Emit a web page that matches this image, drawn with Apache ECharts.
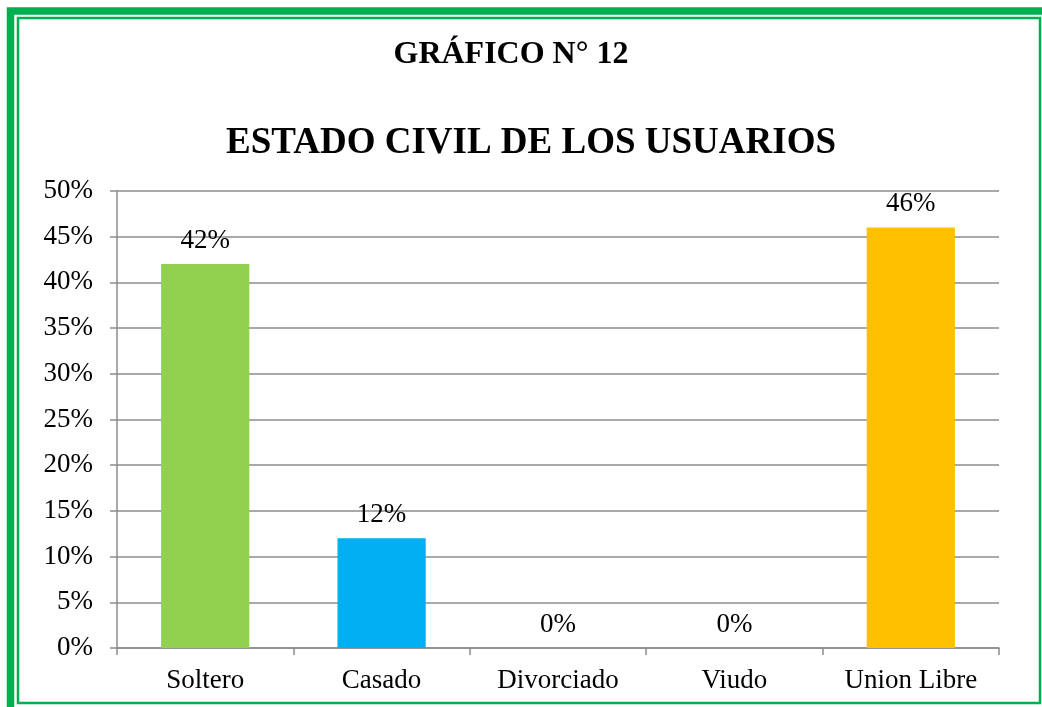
<!DOCTYPE html>
<html>
<head>
<meta charset="utf-8">
<script src="https://cdn.jsdelivr.net/npm/echarts@6/dist/echarts.min.js"></script>
<style>
html, body { margin: 0; padding: 0; background: #fff; }
#echarts { width: 1042px; height: 707px; }
</style>
</head>
<body>
<div id="echarts"></div>
<script>
var categories = ['Soltero', 'Casado', 'Divorciado', 'Viudo', 'Union Libre'];
var values = [42, 12, 0, 0, 46];
var barColors = ['#92d050', '#00b0f0', '#92d050', '#92d050', '#ffc000'];
var yTicks = [0, 5, 10, 15, 20, 25, 30, 35, 40, 45, 50];

var myChart = echarts.init(document.getElementById('echarts'));
var font = '"Liberation Serif", "Times New Roman", serif';

var option = {
    backgroundColor: '#fff',
    textStyle: { fontFamily: font },
    title: [{
        text: 'GRÁFICO N° 12',
        left: 506,
        top: 34,
        textAlign: 'center',
        textStyle: { fontFamily: font, fontSize: 32, fontWeight: 'bold', color: '#000' }
    }, {
        text: 'ESTADO CIVIL DE LOS USUARIOS',
        left: 526,
        top: 120,
        textAlign: 'center',
        textStyle: { fontFamily: font, fontSize: 37, fontWeight: 'bold', color: '#000' }
    }],
    graphic: [{
        type: 'rect',
        shape: { x: 10.5, y: 11, width: 1100, height: 800 },
        style: { fill: 'none', stroke: '#00b050', lineWidth: 7.5 }
    }, {
        type: 'rect',
        shape: { x: 18, y: 18, width: 1022, height: 685 },
        style: { fill: 'none', stroke: '#00b050', lineWidth: 2.5 }
    }],
    grid: { left: 117, right: 43, top: 191, bottom: 59 },
    xAxis: {
        type: 'category',
        data: categories,
        axisLine: { lineStyle: { color: '#8c8c8c', width: 1.5 } },
        axisTick: { show: true, length: 7, lineStyle: { color: '#8c8c8c', width: 1.5 } },
        axisLabel: { color: '#000', fontSize: 27, fontFamily: font, margin: 19 }
    },
    yAxis: {
        type: 'value',
        min: 0,
        max: 50,
        interval: 5,
        axisLine: { show: true, lineStyle: { color: '#8c8c8c', width: 1.5 } },
        axisTick: { show: true, length: 7, lineStyle: { color: '#8c8c8c', width: 1.5 } },
        splitLine: { lineStyle: { color: '#8c8c8c', width: 1.5 } },
        axisLabel: {
            color: '#000', fontSize: 27, fontFamily: font, margin: 24, padding: [4, 0, 0, 0],
            formatter: function (v) { return yTicks.indexOf(v) >= 0 ? v + '%' : ''; }
        }
    },
    series: [{
        type: 'bar',
        barWidth: '50%',
        data: values.map(function (v, i) {
            return { value: v, itemStyle: { color: barColors[i] } };
        }),
        label: {
            show: true,
            position: 'top',
            distance: 10,
            color: '#000',
            fontSize: 27,
            fontFamily: font,
            formatter: '{c}%'
        },
        animation: false
    }],
    animation: false
};
myChart.setOption(option);
</script>
</body>
</html>
